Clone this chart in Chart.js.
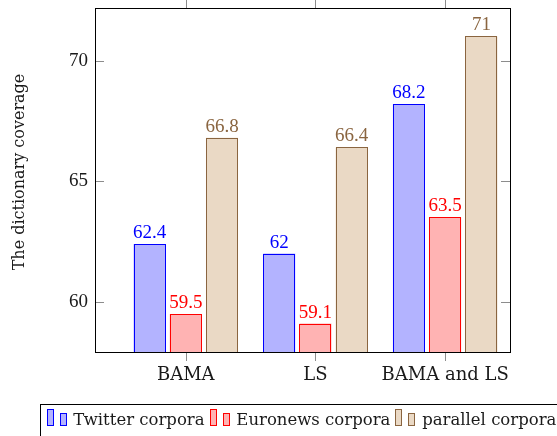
<!DOCTYPE html>
<html><head><meta charset="utf-8">
<script src="https://cdn.jsdelivr.net/npm/chart.js@4/dist/chart.umd.min.js"></script>
<style>html,body{margin:0;padding:0;background:#fff;}#wrap{width:557px;height:436px;}</style>
</head><body><div id="wrap"><canvas id="c" width="557" height="436"></canvas></div>
<script>
const categories = ['BAMA', 'LS', 'BAMA and LS'];
const seriesNames = ['Twitter corpora', 'Euronews corpora', 'parallel corpora'];
const twitter = [62.4, 62, 68.2];
const euronews = [59.5, 59.1, 63.5];
const parallel = [66.8, 66.4, 71];
const yTicks = [60, 65, 70];
const yTitle = 'The dictionary coverage';

const seriesValues = [twitter, euronews, parallel];
const fills = ['#b3b3ff', '#ffb3b3', '#ead9c5'];
const strokes = ['#0000ff', '#ff0000', '#8a6540'];
const labelColors = ['#0000ff', '#ff0000', '#8a6540'];
const SERIF = '"DejaVu Serif", serif';
const NUMF = '"Liberation Serif", serif';

const datasets = seriesValues.map((vals, s) => ({
  label: seriesNames[s],
  data: vals.map((v, i) => ({ x: i, y: v })),
  backgroundColor: fills[s],
  borderColor: strokes[s],
  borderWidth: 0,
  barPercentage: 0.885,
  categoryPercentage: 0.838
}));

const decor = {
  id: 'decor',
  afterDatasetsDraw(chart) {
    const ctx = chart.ctx, a = chart.chartArea, xs = chart.scales.x, ys = chart.scales.y;
    ctx.save();
    ctx.lineWidth = 1;
    // crisp bar outlines
    chart.data.datasets.forEach((ds, s) => {
      const meta = chart.getDatasetMeta(s);
      meta.data.forEach(bar => {
        const l = Math.round(bar.x - bar.width / 2), r = Math.round(bar.x + bar.width / 2);
        const t = Math.round(bar.y), b = Math.min(Math.round(bar.base), Math.round(a.bottom));
        ctx.fillStyle = fills[s];
        ctx.fillRect(l, t, r - l, b - t);
        ctx.strokeStyle = strokes[s];
        ctx.strokeRect(l + 0.5, t + 0.5, r - l - 1, b - t);
      });
    });
    // tick marks
    ctx.strokeStyle = '#8c8c8c';
    ctx.beginPath();
    yTicks.forEach(v => {
      const p = Math.round(ys.getPixelForValue(v)) + 0.5;
      ctx.moveTo(a.left, p); ctx.lineTo(a.left + 9, p);
      ctx.moveTo(a.right - 9, p); ctx.lineTo(a.right, p);
    });
    categories.forEach((c, i) => {
      const p = Math.round(xs.getPixelForValue(i)) + 0.5;
      ctx.moveTo(p, a.bottom); ctx.lineTo(p, a.bottom + 9);
      ctx.moveTo(p, a.top); ctx.lineTo(p, a.top - 9);
    });
    ctx.stroke();
    // frame
    ctx.strokeStyle = '#000';
    ctx.strokeRect(a.left + 0.5, a.top + 0.5, a.right - a.left, a.bottom - a.top);
    // value labels
    ctx.font = '19px ' + NUMF;
    ctx.textAlign = 'center'; ctx.textBaseline = 'alphabetic';
    chart.data.datasets.forEach((ds, s) => {
      const meta = chart.getDatasetMeta(s);
      ctx.fillStyle = labelColors[s];
      meta.data.forEach((bar, j) => {
        ctx.fillText(String(seriesValues[s][j]), bar.x, Math.round(bar.y) - 6);
      });
    });
    // y title
    ctx.save();
    ctx.translate(20, 172);
    ctx.rotate(-Math.PI / 2);
    ctx.font = '16px ' + SERIF;
    ctx.fillStyle = '#1a1a1a';
    ctx.textAlign = 'center'; ctx.textBaseline = 'middle';
    ctx.fillText(yTitle, 0, 0);
    ctx.restore();
    // legend
    const top = 404;
    ctx.strokeStyle = '#000';
    ctx.strokeRect(40.5, top + 0.5, 560, 60);
    ctx.font = '16.5px ' + SERIF;
    ctx.textAlign = 'left'; ctx.textBaseline = 'alphabetic';
    let x = 46.5;
    chart.data.datasets.forEach((ds, s) => {
      const xi = Math.round(x);
      ctx.fillStyle = fills[s]; ctx.strokeStyle = strokes[s];
      ctx.fillRect(xi, 409, 7, 17); ctx.strokeRect(xi + 0.5, 409.5, 6, 16);
      ctx.fillRect(xi + 13, 413, 7, 13); ctx.strokeRect(xi + 13.5, 413.5, 6, 12);
      ctx.fillStyle = '#1a1a1a';
      ctx.fillText(ds.label, x + 26.8, 425);
      x += 26.8 + ctx.measureText(ds.label).width + 5;
    });
    ctx.restore();
  }
};

new Chart(document.getElementById('c'), {
  type: 'bar',
  data: { datasets },
  options: {
    responsive: false,
    devicePixelRatio: 1,
    animation: false,
    layout: { padding: { top: 8, right: 47, left: 0, bottom: 0 } },
    plugins: { legend: { display: false }, tooltip: { enabled: false } },
    scales: {
      x: {
        type: 'linear', min: -0.7, max: 2.5, offset: false,
        grid: { display: false, drawTicks: false },
        border: { display: false },
        afterBuildTicks: s => { s.ticks = categories.map((c, i) => ({ value: i })); },
        afterFit: s => { s.height = 84; s.paddingLeft = 0; s.paddingRight = 0; },
        ticks: {
          autoSkip: false, maxRotation: 0, padding: 13,
          color: '#1a1a1a', font: { family: SERIF, size: 18 },
          callback: v => categories[v]
        }
      },
      y: {
        min: 57.92, max: 72.18,
        grid: { display: false, drawTicks: false },
        border: { display: false },
        afterBuildTicks: s => { s.ticks = yTicks.map(v => ({ value: v })); },
        afterFit: s => { s.width = 95; s.paddingTop = 0; s.paddingBottom = 0; },
        ticks: { padding: 7, color: '#1a1a1a', font: { family: NUMF, size: 19 } }
      }
    }
  },
  plugins: [decor]
});
</script>
</body></html>
